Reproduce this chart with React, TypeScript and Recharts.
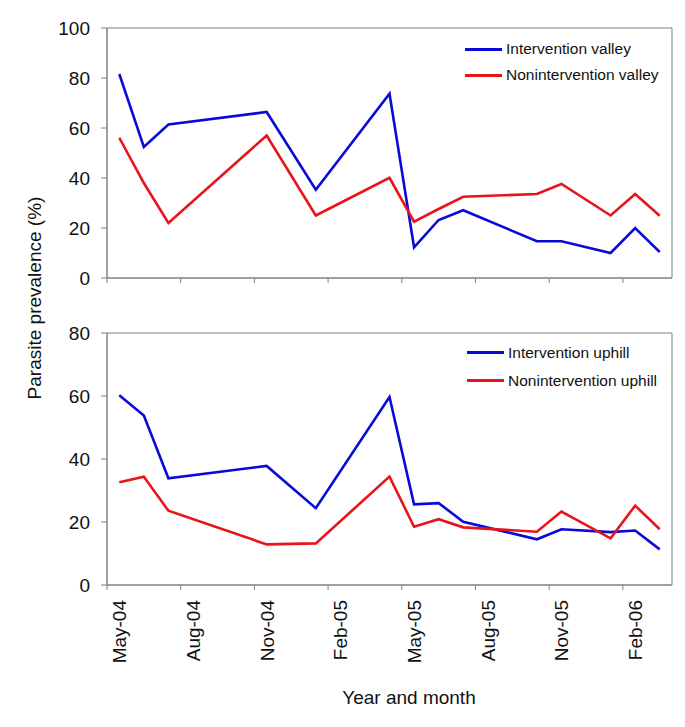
import React from 'react';
import { LineChart, Line, XAxis, YAxis, Legend, ReferenceArea } from 'recharts';

const sampleMonths = [
  '2004-05', '2004-06', '2004-07', '2004-11', '2005-01', '2005-04', '2005-05',
  '2005-06', '2005-07', '2005-10', '2005-11', '2006-01', '2006-02', '2006-03',
];

const interventionValley = [81.6, 52.4, 61.4, 66.4, 35.3, 73.7, 12.3, 23.2, 27.1, 14.7, 14.7, 10.0, 20.0, 10.4];
const noninterventionValley = [56.1, 38.0, 22.0, 57.0, 25.0, 40.1, 22.5, 27.6, 32.5, 33.6, 37.6, 25.0, 33.6, 24.9];
const interventionUphill = [60.2, 53.8, 33.9, 37.8, 24.4, 59.7, 25.6, 26.0, 20.1, 14.5, 17.7, 16.8, 17.3, 11.3];
const noninterventionUphill = [32.6, 34.4, 23.6, 12.9, 13.2, 34.4, 18.5, 20.9, 18.3, 16.9, 23.3, 14.8, 25.2, 17.7];

const tickMonths = ['2004-05', '2004-08', '2004-11', '2005-02', '2005-05', '2005-08', '2005-11', '2006-02'];
const tickLabels = ['May-04', 'Aug-04', 'Nov-04', 'Feb-05', 'May-05', 'Aug-05', 'Nov-05', 'Feb-06'];

const FONT = '"Liberation Sans", Arial, Helvetica, sans-serif';
const BLUE = '#0a0ad8';
const RED = '#e8141a';
const GREY = '#808080';
const MONTH_SPAN = 23; // May-04 .. Mar-06

// months since May-04
const monthPos = (s: string) => {
  const [y, m] = s.split('-').map(Number);
  return (y - 2004) * 12 + (m - 5);
};

const boundaryTicks = tickMonths.map(monthPos);
const labelTicks = boundaryTicks.map((t) => t + 0.5);

const valleyData = sampleMonths.map((m, i) => ({
  m: monthPos(m) + 0.5,
  iv: interventionValley[i],
  nv: noninterventionValley[i],
}));

const uphillData = sampleMonths.map((m, i) => ({
  m: monthPos(m) + 0.5,
  iu: interventionUphill[i],
  nu: noninterventionUphill[i],
}));

const makeLegend = (rowHeight: number) => ({ payload }: any) => (
  <div style={{ fontFamily: FONT, fontSize: 15.5, color: '#111' }}>
    {(payload || []).map((p: any) => (
      <div key={p.value} style={{ display: 'flex', alignItems: 'center', height: rowHeight }}>
        <span style={{ display: 'inline-block', width: 37, borderTop: `3px solid ${p.color}`, marginRight: 4 }} />
        <span>{p.value}</span>
      </div>
    ))}
  </div>
);

const MonthLabel = ({ x, y, payload }: any) => {
  const idx = labelTicks.indexOf(payload.value);
  return (
    <g transform={`translate(${x},${y})`}>
      <text
        transform="rotate(-90)"
        x={-9}
        dy="0.36em"
        textAnchor="end"
        fontFamily={FONT}
        fontSize={19}
        fill="#111"
      >
        {idx >= 0 ? tickLabels[idx] : ''}
      </text>
    </g>
  );
};

const yTick = { fontFamily: FONT, fontSize: 19, fill: '#111' };

export default function App() {
  return (
    <div style={{ position: 'absolute', left: 0, top: 0, width: 685, height: 727, background: '#fff' }}>
      <div style={{ position: 'absolute', left: 0, top: 0 }}>
        <LineChart width={685} height={290} data={valleyData} margin={{ top: 28, right: 13, bottom: 0, left: 0 }}>
          <XAxis
            dataKey="m"
            type="number"
            domain={[0, MONTH_SPAN]}
            ticks={boundaryTicks}
            interval={0}
            height={12}
            stroke={GREY}
            tickSize={5}
            tick={() => <g />}
          />
          <YAxis
            domain={[0, 100]}
            ticks={[0, 20, 40, 60, 80, 100]}
            width={107}
            stroke={GREY}
            tickSize={6}
            tickMargin={11}
            tick={yTick}
          />
          <ReferenceArea x1={0} x2={MONTH_SPAN} y1={0} y2={100} fill="none" stroke={GREY} />
          <Legend
            layout="vertical"
            align="center"
            verticalAlign="middle"
            wrapperStyle={{ top: 36, left: 465, width: 220 }}
            content={makeLegend(26)}
          />
          <Line type="linear" dataKey="iv" name="Intervention valley" stroke={BLUE} strokeWidth={2.6} dot={false} isAnimationActive={false} />
          <Line type="linear" dataKey="nv" name="Nonintervention valley" stroke={RED} strokeWidth={2.6} dot={false} isAnimationActive={false} />
        </LineChart>
      </div>

      <div style={{ position: 'absolute', left: 0, top: 300 }}>
        <LineChart width={685} height={380} data={uphillData} margin={{ top: 33, right: 13, bottom: 0, left: 0 }}>
          <XAxis
            dataKey="m"
            type="number"
            domain={[0, MONTH_SPAN]}
            ticks={boundaryTicks}
            interval={0}
            height={6}
            stroke={GREY}
            tickSize={5}
            tick={() => <g />}
          />
          <XAxis
            xAxisId="labels"
            dataKey="m"
            type="number"
            domain={[0, MONTH_SPAN]}
            ticks={labelTicks}
            interval={0}
            height={89}
            axisLine={false}
            tickLine={false}
            tickSize={0}
            tickMargin={0}
            tick={<MonthLabel />}
          />
          <YAxis
            domain={[0, 80]}
            ticks={[0, 20, 40, 60, 80]}
            width={107}
            stroke={GREY}
            tickSize={6}
            tickMargin={11}
            tick={yTick}
          />
          <ReferenceArea x1={0} x2={MONTH_SPAN} y1={0} y2={80} fill="none" stroke={GREY} />
          <Legend
            layout="vertical"
            align="center"
            verticalAlign="middle"
            wrapperStyle={{ top: 39, left: 467, width: 220 }}
            content={makeLegend(27.7)}
          />
          <Line type="linear" dataKey="iu" name="Intervention uphill" stroke={BLUE} strokeWidth={2.6} dot={false} isAnimationActive={false} />
          <Line type="linear" dataKey="nu" name="Nonintervention uphill" stroke={RED} strokeWidth={2.6} dot={false} isAnimationActive={false} />
        </LineChart>
      </div>

      <div
        style={{
          position: 'absolute',
          left: 35,
          top: 298,
          transform: 'translate(-50%, -50%) rotate(-90deg)',
          whiteSpace: 'nowrap',
          fontFamily: FONT,
          fontSize: 19,
          color: '#111',
        }}
      >
        Parasite prevalence (%)
      </div>
      <div
        style={{
          position: 'absolute',
          left: 409,
          top: 698,
          transform: 'translate(-50%, -50%)',
          whiteSpace: 'nowrap',
          fontFamily: FONT,
          fontSize: 19,
          color: '#111',
        }}
      >
        Year and month
      </div>
    </div>
  );
}
